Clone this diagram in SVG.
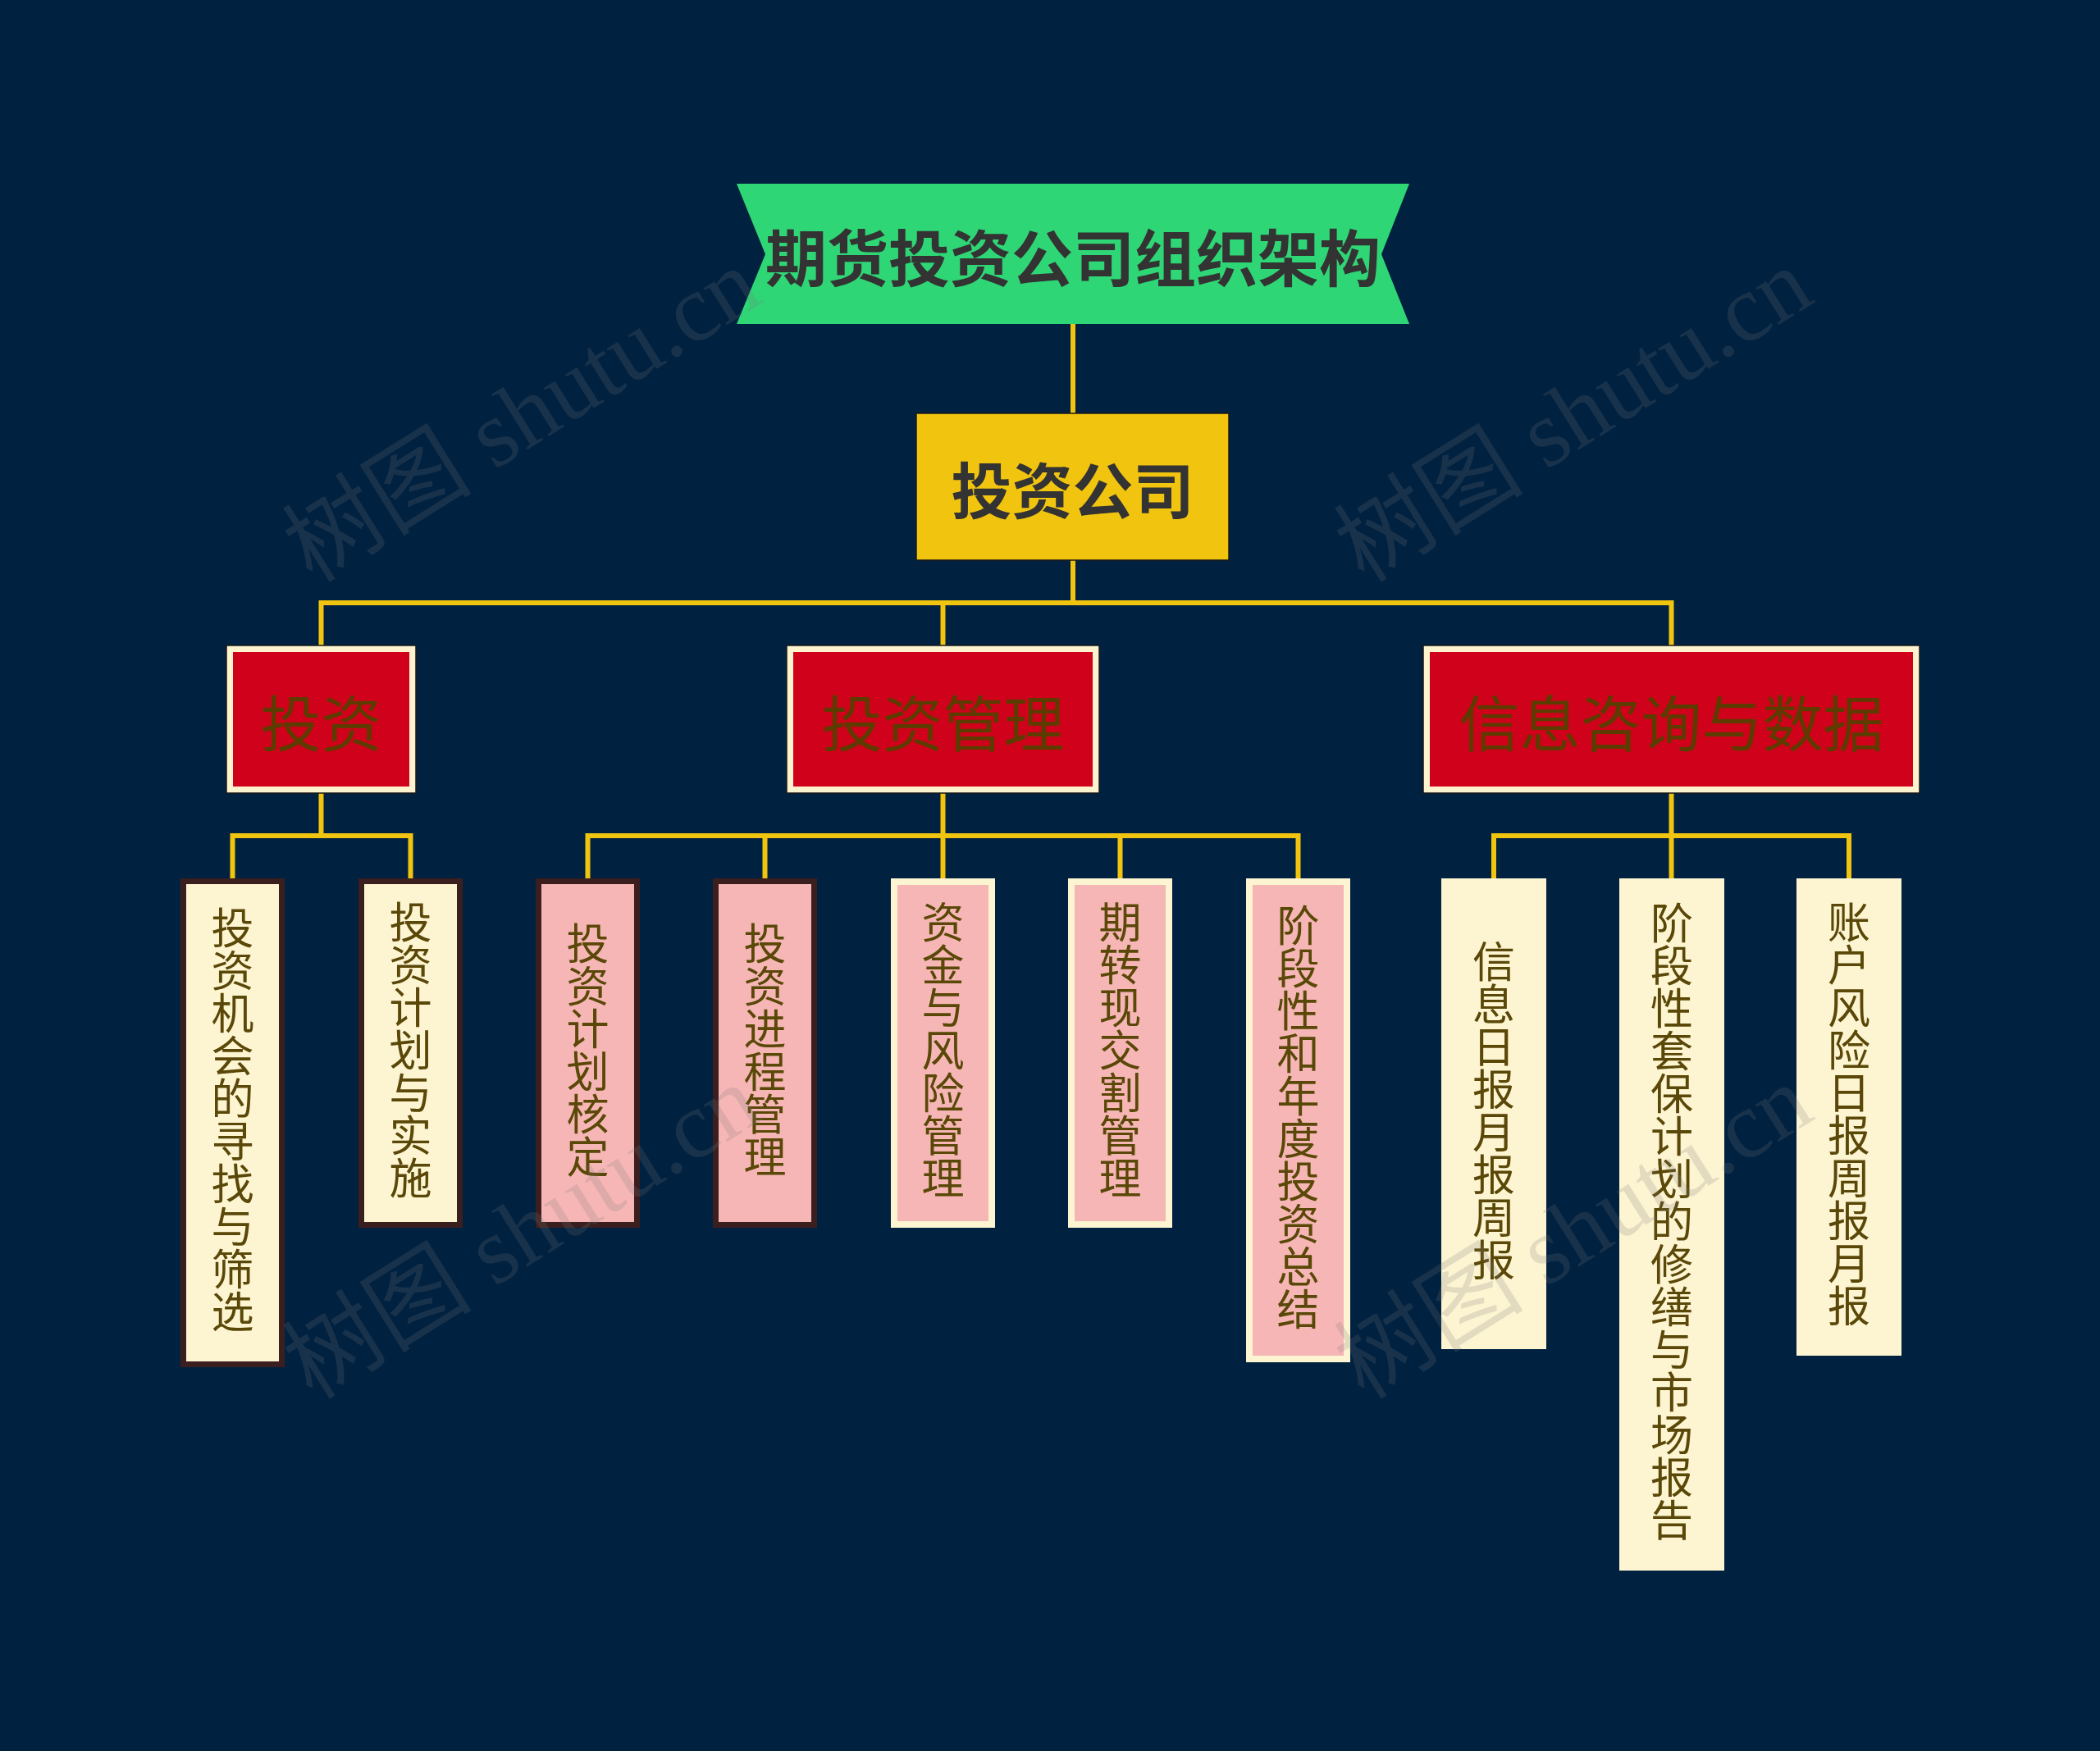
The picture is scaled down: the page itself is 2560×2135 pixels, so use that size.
<svg xmlns="http://www.w3.org/2000/svg" width="2560" height="2135" viewBox="0 0 2560 2135">
<style>
.bg{fill:#002140}
.conn{fill:none;stroke:#F1C40F;stroke-width:6;stroke-linejoin:miter}
.title{font-family:"Noto Sans CJK SC","Noto Sans",sans-serif;font-weight:700;fill:#333333;text-anchor:middle;dominant-baseline:central}
.l1box{fill:#FDF3CF;stroke:#1a1a1a;stroke-width:1.5}
.l1in{fill:#D0021B}
.l1txt{font-family:"Noto Sans CJK SC","Noto Sans",sans-serif;font-size:74px;fill:#5E3B00;text-anchor:middle;dominant-baseline:central}
.leaf{font-family:"Noto Sans CJK SC","Noto Sans",sans-serif;font-size:52px;fill:#5A4808;text-anchor:middle;writing-mode:vertical-rl;text-orientation:upright}
.darkcream{fill:#FDF4D2;stroke:#3B1F1F;stroke-width:7}
.darkpink{fill:#F7B6B6;stroke:#3B1F1F;stroke-width:7}
.creampink{fill:#F7B6B6;stroke:#FDF4D2;stroke-width:8}
.cream{fill:#FDF4D2}
.wm{font-family:"Liberation Serif","Noto Sans CJK SC",serif;font-size:116px;fill:#7a7a7a;fill-opacity:0.2}
</style>
<rect class="bg" x="0" y="0" width="2560" height="2135"/>

<g id="connectors">
<path class="conn" d="M1308 395 V504"/>
<path class="conn" d="M1308 683 V735"/>
<path class="conn" d="M391.5 787 V735 H2037.5 V787"/>
<path class="conn" d="M1149.5 735 V787"/>
<path class="conn" d="M391.5 967 V1019"/>
<path class="conn" d="M283.5 1071 V1019 H500.5 V1071"/>
<path class="conn" d="M1149.5 967 V1071"/>
<path class="conn" d="M716.5 1071 V1019 H1582.5 V1071"/>
<path class="conn" d="M932.5 1019 V1071"/>
<path class="conn" d="M1365.5 1019 V1071"/>
<path class="conn" d="M2037.5 967 V1071"/>
<path class="conn" d="M1821 1071 V1019 H2254 V1071"/>
</g>

<g id="root">
<polygon points="898,224 1718,224 1684,310 1718,395 898,395 933,310" fill="#2FD675"/>
<text class="title" x="1308" y="310" font-size="75">期货投资公司组织架构</text>
</g>

<g id="company">
<rect x="1117" y="504" width="381" height="179" fill="#F1C40F" stroke="#1a1a1a" stroke-width="1.5"/>
<text class="title" x="1307.5" y="593" font-size="74">投资公司</text>
</g>

<g id="n-touzi">
<rect class="l1box" x="276" y="787" width="231" height="180"/>
<rect class="l1in" x="284" y="795" width="215" height="164"/>
<text class="l1txt" x="391.5" y="877">投资</text>
</g>
<g id="n-guanli">
<rect class="l1box" x="959" y="787" width="381" height="180"/>
<rect class="l1in" x="967" y="795" width="365" height="164"/>
<text class="l1txt" x="1149.5" y="877">投资管理</text>
</g>
<g id="n-xinxi">
<rect class="l1box" x="1735" y="787" width="605" height="180"/>
<rect class="l1in" x="1743" y="795" width="589" height="164"/>
<text class="l1txt" x="2037.5" y="877">信息咨询与数据</text>
</g>

<g id="leaf1">
<rect class="darkcream" x="223.5" y="1074.5" width="120" height="589"/>
<text class="leaf" x="283.5" y="1365">投资机会的寻找与筛选</text>
</g>
<g id="leaf2">
<rect class="darkcream" x="440.5" y="1074.5" width="120" height="419"/>
<text class="leaf" x="500.5" y="1280">投资计划与实施</text>
</g>
<g id="leaf3">
<rect class="darkpink" x="656.5" y="1074.5" width="120" height="419"/>
<text class="leaf" x="716.5" y="1280">投资计划核定</text>
</g>
<g id="leaf4">
<rect class="darkpink" x="872.5" y="1074.5" width="120" height="419"/>
<text class="leaf" x="932.5" y="1280">投资进程管理</text>
</g>
<g id="leaf5">
<rect class="creampink" x="1090" y="1075" width="119" height="418"/>
<text class="leaf" x="1149.5" y="1280">资金与风险管理</text>
</g>
<g id="leaf6">
<rect class="creampink" x="1306" y="1075" width="119" height="418"/>
<text class="leaf" x="1365.5" y="1280">期转现交割管理</text>
</g>
<g id="leaf7">
<rect class="creampink" x="1523" y="1075" width="119" height="582"/>
<text class="leaf" x="1582.5" y="1362">阶段性和年度投资总结</text>
</g>
<g id="leaf8">
<rect class="cream" x="1757" y="1071" width="128" height="574"/>
<text class="leaf" x="1821" y="1354">信息日报月报周报</text>
</g>
<g id="leaf9">
<rect class="cream" x="1974" y="1071" width="128" height="844"/>
<text class="leaf" x="2038" y="1489">阶段性套保计划的修缮与市场报告</text>
</g>
<g id="leaf10">
<rect class="cream" x="2190" y="1071" width="128" height="582"/>
<text class="leaf" x="2254" y="1358">账户风险日报周报月报</text>
</g>

<g id="watermark">
<text class="wm" transform="translate(381,712) rotate(-32)">树图 shutu.cn</text>
<text class="wm" transform="translate(1663,712) rotate(-32)">树图 shutu.cn</text>
<text class="wm" transform="translate(381,1708) rotate(-32)">树图 shutu.cn</text>
<text class="wm" transform="translate(1663,1708) rotate(-32)">树图 shutu.cn</text>
</g>
</svg>
